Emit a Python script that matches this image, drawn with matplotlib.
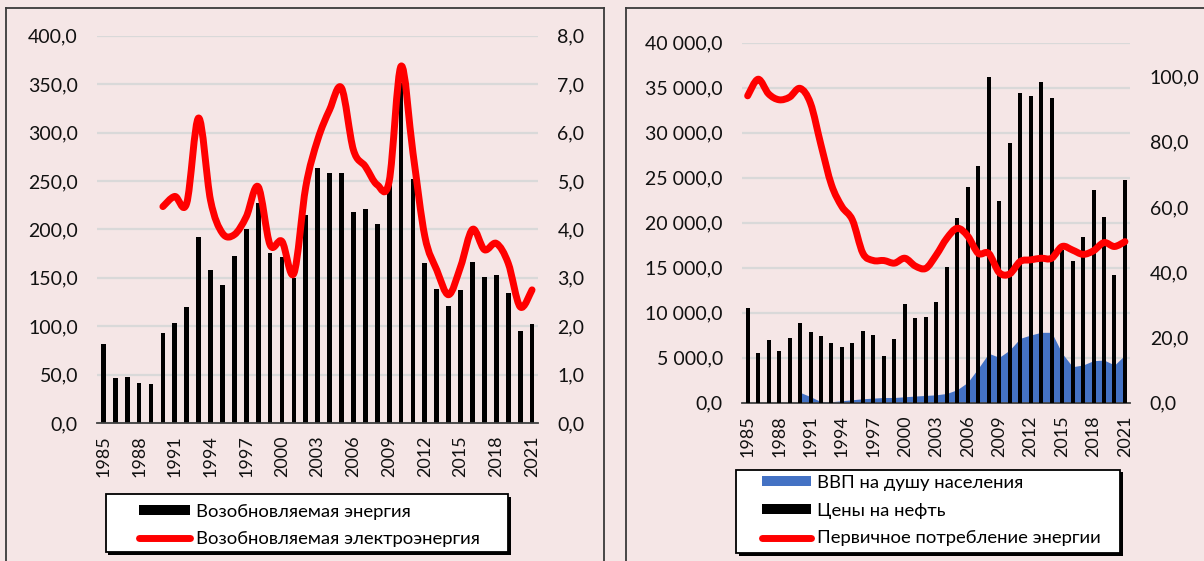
import numpy as np
import matplotlib
matplotlib.use("Agg")
import matplotlib.pyplot as plt
from matplotlib.path import Path
from matplotlib.patches import PathPatch, Patch, Rectangle
from matplotlib.lines import Line2D
from matplotlib.ticker import FuncFormatter, MultipleLocator

plt.rcParams['font.family'] = ['Lato', 'DejaVu Sans']

# ---------------- data ----------------
years = list(range(1985, 2022))
tick_years = list(range(1985, 2022, 3))

renew_energy = [82, 46, 48, 41, 40, 93, 103, 120, 192, 158,
                143, 172, 200, 227, 176, 171, 150, 215, 263, 258,
                258, 218, 221, 206, 246, 351, 252, 165, 138, 121,
                137, 166, 151, 153, 134, 95, 102]
renew_elec_years = list(range(1990, 2022))
renew_elec = [4.47, 4.68, 4.54, 6.3, 4.6, 3.92, 3.89, 4.26, 4.88, 3.68,
              3.75, 3.09, 4.88, 5.85, 6.47, 6.92, 5.64, 5.3, 4.92, 4.99,
              7.37, 5.58, 3.85, 3.16, 2.65, 3.23, 4.0, 3.58, 3.71, 3.3,
              2.4, 2.75]

gdp_years = list(range(1990, 2022))
gdp_pc = [1150, 670, 110, 110, 220, 330, 440, 510, 580, 580,
          660, 740, 810, 880, 1030, 1450, 2270, 3820, 5490, 5040,
          5850, 7150, 7520, 7820, 7820, 5490, 4000, 4190, 4670, 4740,
          4190, 5300]
oil_price = [28.9, 15.1, 19.2, 16.0, 19.7, 24.5, 21.6, 20.6, 18.4, 17.2,
             18.4, 22.1, 20.7, 14.4, 19.4, 30.4, 26.1, 26.2, 31.0, 41.5,
             56.7, 66.2, 72.6, 99.8, 62.0, 79.6, 95.1, 94.2, 98.3, 93.4,
             46.8, 43.4, 50.8, 65.3, 57.1, 39.2, 68.2]
primary_energy = [94.1, 99.2, 94.7, 92.9, 93.7, 96.4, 91.8, 79.0, 66.8, 60.1,
                  56.0, 45.8, 43.6, 43.6, 42.8, 44.3, 41.9, 41.2, 45.3, 50.4,
                  53.5, 51.1, 45.8, 45.8, 39.9, 39.5, 43.3, 43.8, 44.3, 44.3,
                  47.9, 46.8, 45.5, 46.6, 49.1, 47.9, 49.4]

left_legend = ["Возобновляемая энергия", "Возобновляемая электроэнергия"]
right_legend = ["ВВП на душу населения", "Цены на нефть", "Первичное потребление энергии"]

# ---------------- styles ----------------
BG = '#F5E6E6'
GRID = '#D9D9D9'
RED = '#FF0000'
BLUE = '#4472C4'
W, H = 1204, 561
TICK_FS = 14
XTICK_FS = 13
LEG_FS = 13.3


def smooth_path(x, y):
    pts = np.column_stack([np.asarray(x, float), np.asarray(y, float)])
    n = len(pts)
    verts = [pts[0]]
    codes = [Path.MOVETO]
    for i in range(n - 1):
        p0 = pts[i - 1] if i > 0 else pts[i]
        p1 = pts[i]
        p2 = pts[i + 1]
        p3 = pts[i + 2] if i + 2 < n else pts[i + 1]
        c1 = p1 + (p2 - p0) / 6.0
        c2 = p2 - (p3 - p1) / 6.0
        verts += [c1, c2, p2]
        codes += [Path.CURVE4] * 3
    return Path(verts, codes)


def fx(px):
    return px / W


def fy(py):
    return 1 - py / H


def ax_rect(l, t, r, b):
    return [fx(l), fy(b), fx(r) - fx(l), fy(t) - fy(b)]


def comma1(v, pos=None):
    return f"{v:.1f}".replace('.', ',')


def space_comma1(v, pos=None):
    s = f"{v:,.1f}"
    return s.replace(',', ' ').replace('.', ',')


def style_axes(ax, ax2, fmt_left, fmt_right):
    ax.set_facecolor('none')
    ax2.set_facecolor('none')
    for a in (ax, ax2):
        for s in a.spines.values():
            s.set_visible(False)
        a.tick_params(length=0)
    ax.spines['bottom'].set_visible(True)
    ax.spines['bottom'].set_color('#404040')
    ax.spines['bottom'].set_linewidth(1.3)
    ax.set_axisbelow(True)
    ax.grid(axis='y', color=GRID, linewidth=1.6)
    ax.grid(axis='x', visible=False)
    ax.set_xlim(years[0] - 0.5, years[-1] + 0.5)
    ax.set_xticks(tick_years)
    ax.set_xticklabels([str(y) for y in tick_years], rotation=90, fontsize=XTICK_FS, color='#111111')
    ax.tick_params(axis='x', pad=9)
    ax.tick_params(axis='y', pad=14, labelsize=TICK_FS, labelcolor='#111111')
    ax2.tick_params(axis='y', pad=14, labelsize=TICK_FS, labelcolor='#111111')
    ax.yaxis.set_major_formatter(FuncFormatter(fmt_left))
    ax2.yaxis.set_major_formatter(FuncFormatter(fmt_right))


fig = plt.figure(figsize=(W / 100, H / 100), dpi=100, facecolor=BG)

# panel borders
border_kw = dict(color='#3a3a3a', linewidth=1.3, transform=fig.transFigure)
fig.add_artist(Line2D([fx(6), fx(604)], [fy(7.5), fy(7.5)], **border_kw))
fig.add_artist(Line2D([fx(6), fx(6)], [fy(7.5), 0], **border_kw))
fig.add_artist(Line2D([fx(604), fx(604)], [fy(7.5), 0], **border_kw))
fig.add_artist(Line2D([fx(626), 1], [fy(7.5), fy(7.5)], **border_kw))
fig.add_artist(Line2D([fx(626), fx(626)], [fy(7.5), 0], **border_kw))

# ---------------- left chart ----------------
axL = fig.add_axes(ax_rect(97.4, 35.7, 538, 423))
axL2 = axL.twinx()
axL.bar(years, renew_energy, width=0.4, color='black', zorder=2)
axL.set_ylim(0, 400)
axL.yaxis.set_major_locator(MultipleLocator(50))
axL2.set_ylim(0, 8)
axL2.yaxis.set_major_locator(MultipleLocator(1))
axL2.add_patch(PathPatch(smooth_path(renew_elec_years, renew_elec), fill=False,
                         edgecolor=RED, linewidth=5, capstyle='round', joinstyle='round', zorder=3))
style_axes(axL, axL2, comma1, comma1)

# ---------------- right chart ----------------
axR = fig.add_axes(ax_rect(742.4, 42.7, 1130.2, 402.7))
axR2 = axR.twinx()
axR.fill_between(gdp_years, 0, gdp_pc, color=BLUE, linewidth=0, zorder=1)
axR.set_ylim(0, 40000)
axR.yaxis.set_major_locator(MultipleLocator(5000))
axR2.bar(years, oil_price, width=0.38, color='black', zorder=2)
axR2.add_patch(PathPatch(smooth_path(years, primary_energy), fill=False,
                         edgecolor=RED, linewidth=5, capstyle='round', joinstyle='round', zorder=3))
axR2.set_ylim(0, 110.4)
axR2.set_yticks([0, 20, 40, 60, 80, 100])
style_axes(axR, axR2, space_comma1, comma1)


# ---------------- legends ----------------
def legend_box(l, t, r, b):
    fig.add_artist(Rectangle((fx(l + 2.5), fy(b + 2.5)), fx(r) - fx(l), fy(t) - fy(b),
                             transform=fig.transFigure, facecolor='black', edgecolor='none', zorder=5))
    fig.add_artist(Rectangle((fx(l), fy(b)), fx(r) - fx(l), fy(t) - fy(b),
                             transform=fig.transFigure, facecolor='white', edgecolor='black',
                             linewidth=1.3, zorder=6))


legend_box(106, 494, 508, 552)
hL = [Patch(facecolor='black', edgecolor='none'),
      Line2D([], [], color=RED, linewidth=5, solid_capstyle='round')]
lgL = fig.legend(hL, left_legend, loc='upper left', bbox_to_anchor=(fx(139), fy(504)),
                 frameon=False, fontsize=LEG_FS, handlelength=2.75, handleheight=0.45,
                 handletextpad=0.33, labelspacing=0.6, borderpad=0, borderaxespad=0)
lgL.set_zorder(7)

legend_box(736, 469.5, 1120, 553)
hR = [Patch(facecolor=BLUE, edgecolor='none'),
      Patch(facecolor='black', edgecolor='none'),
      Line2D([], [], color=RED, linewidth=5, solid_capstyle='round')]
lgR = fig.legend(hR, right_legend, loc='upper left', bbox_to_anchor=(fx(762), fy(475)),
                 frameon=False, fontsize=LEG_FS, handlelength=2.65, handleheight=0.45,
                 handletextpad=0.33, labelspacing=0.63, borderpad=0, borderaxespad=0)
lgR.set_zorder(7)

fig.savefig('out.png', dpi=100, facecolor=BG)
